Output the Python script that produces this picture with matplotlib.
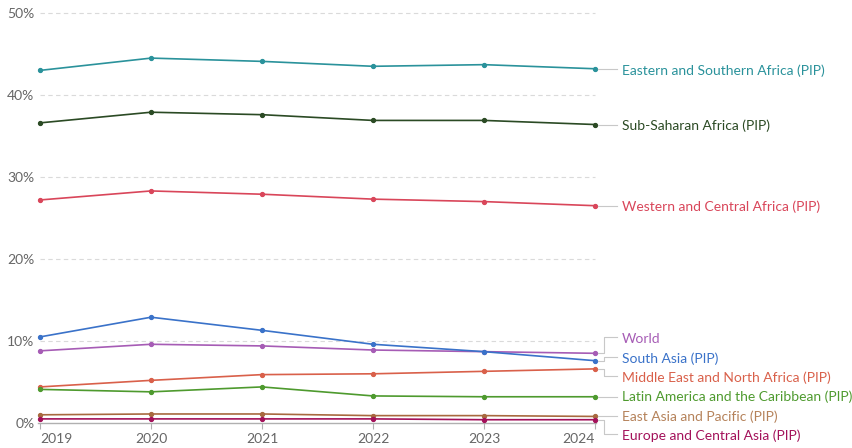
import matplotlib
matplotlib.use("Agg")
import matplotlib.pyplot as plt
from matplotlib.lines import Line2D
import matplotlib.transforms as mtransforms

plt.rcParams['font.family'] = ['Lato', 'DejaVu Sans']

years = [2019, 2020, 2021, 2022, 2023, 2024]

series_names = [
    "Eastern and Southern Africa (PIP)",
    "Sub-Saharan Africa (PIP)",
    "Western and Central Africa (PIP)",
    "World",
    "South Asia (PIP)",
    "Middle East and North Africa (PIP)",
    "Latin America and the Caribbean (PIP)",
    "East Asia and Pacific (PIP)",
    "Europe and Central Asia (PIP)",
]

eastern_southern_africa = [43.0, 44.5, 44.1, 43.5, 43.7, 43.2]
sub_saharan_africa = [36.6, 37.9, 37.6, 36.9, 36.9, 36.4]
western_central_africa = [27.2, 28.3, 27.9, 27.3, 27.0, 26.5]
world = [8.8, 9.6, 9.4, 8.9, 8.7, 8.5]
south_asia = [10.5, 12.9, 11.3, 9.6, 8.7, 7.6]
mena = [4.4, 5.2, 5.9, 6.0, 6.3, 6.6]
latin_america = [4.1, 3.8, 4.4, 3.3, 3.2, 3.2]
east_asia_pacific = [1.0, 1.1, 1.1, 0.9, 0.9, 0.8]
europe_central_asia = [0.5, 0.5, 0.5, 0.5, 0.4, 0.4]

series_values = [eastern_southern_africa, sub_saharan_africa, western_central_africa,
                 world, south_asia, mena, latin_america, east_asia_pacific,
                 europe_central_asia]

line_colors = ["#2a929b", "#2b4a24", "#d9465a", "#a65cb5", "#3a72c9",
               "#d9604a", "#4e9a2e", "#a8693f", "#a3115a"]
text_colors = ["#2a929b", "#2b4a24", "#d9465a", "#a65cb5", "#3a72c9",
               "#d9604a", "#4e9a2e", "#b5825a", "#a3115a"]

y_ticks = [0, 10, 20, 30, 40, 50]
y_tick_labels = ["0%", "10%", "20%", "30%", "40%", "50%"]

W, H = 853, 448
fig = plt.figure(figsize=(W / 100, H / 100), dpi=100)
ax_left, ax_right, ax_bottom, ax_top = 40, 595, 423, 13
ax = fig.add_axes([ax_left / W, (H - ax_bottom) / H,
                   (ax_right - ax_left) / W, (ax_bottom - ax_top) / H])
ax.set_xlim(2019, 2024)
ax.set_ylim(0, 50)

for vals, col in zip(series_values, line_colors):
    ax.plot(years, vals, color=col, lw=1.2, marker='o', markersize=2.8,
            clip_on=False, zorder=3)

# grid
for yt in y_ticks[1:]:
    ax.plot([2019, 2024], [yt, yt], color="#dadada", lw=0.8,
            ls=(0, (4, 3)), zorder=1, clip_on=False)

for s in ["top", "right", "left"]:
    ax.spines[s].set_visible(False)
ax.spines["bottom"].set_color("#b0b0b0")
ax.spines["bottom"].set_linewidth(1.0)
ax.spines["bottom"].set_bounds(2019 - 0.02, 2024 + 0.01)

ax.set_yticks(y_ticks)
ax.set_yticklabels(y_tick_labels)
ax.tick_params(axis='y', length=0, pad=4, labelsize=10, labelcolor="#666666")
ax.set_xticks(years)
ax.set_xticklabels([str(y) for y in years])
ax.tick_params(axis='x', length=4, width=0.8, color="#b0b0b0", direction='out',
               pad=3, labelsize=10, labelcolor="#666666")
xl = ax.get_xticklabels()
xl[0].set_horizontalalignment('left')
xl[-1].set_horizontalalignment('right')

# labels on the right with overlap resolution
fig.canvas.draw()
end_y_px = [ax.transData.transform((2024, v[-1]))[1] for v in series_values]
gap = 19.4
order = sorted(range(len(series_values)), key=lambda i: -end_y_px[i])
groups = [[i] for i in order]
def group_pos(g):
    mean = sum(end_y_px[i] for i in g) / len(g)
    n = len(g)
    return [mean + gap * ((n - 1) / 2 - k) for k in range(n)]
changed = True
while changed:
    changed = False
    for j in range(len(groups) - 1):
        a = group_pos(groups[j]); b = group_pos(groups[j + 1])
        if a[-1] - b[0] < gap - 1e-6:
            groups[j] = groups[j] + groups[j + 1]
            del groups[j + 1]
            changed = True
            break
label_y = {}
for g in groups:
    for i, p in zip(g, group_pos(g)):
        label_y[i] = p

trans = mtransforms.IdentityTransform()
x0, xm, x1, xt = 598, 604, 617, 622
for i, name in enumerate(series_names):
    ye = end_y_px[i]
    yl = label_y[i]
    if abs(ye - yl) < 1.5:
        xs, ys = [x0, x1], [ye, ye]
    else:
        xs, ys = [x0, xm, xm, x1], [ye, ye, yl, yl]
    fig.add_artist(Line2D(xs, ys, transform=trans, color="#c8c8c8", lw=0.8))
    fig.text(xt / W, (yl - 1.5) / H, name, color=text_colors[i], fontsize=10,
             ha='left', va='center')

fig.savefig("out.png", dpi=100)
